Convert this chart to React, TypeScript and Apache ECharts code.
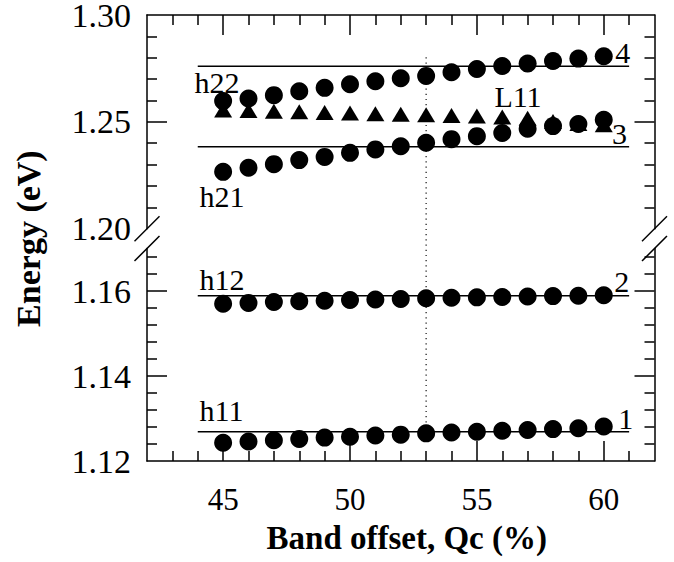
import React, { useEffect, useRef } from "react";
import * as echarts from "echarts";

// ---- data ----
const qcValues = [45, 46, 47, 48, 49, 50, 51, 52, 53, 54, 55, 56, 57, 58, 59, 60];
const h22Energy = [1.2597, 1.2609, 1.2625, 1.2643, 1.2659, 1.2676, 1.269, 1.2704, 1.2715, 1.2732, 1.2747, 1.2761, 1.2773, 1.2785, 1.2796, 1.2807];
const l11Energy = [1.2555, 1.2553, 1.255, 1.2547, 1.2544, 1.2541, 1.2538, 1.2535, 1.2533, 1.253, 1.2527, 1.2523, 1.2517, 1.2502, 1.2492, 1.2486];
const h21Energy = [1.2266, 1.2285, 1.2302, 1.2321, 1.2336, 1.2355, 1.2371, 1.2386, 1.2402, 1.2419, 1.2433, 1.2448, 1.2468, 1.248, 1.249, 1.251];
const h12Energy = [1.157, 1.1572, 1.1574, 1.1576, 1.1577, 1.1579, 1.158, 1.1581, 1.1583, 1.1584, 1.1585, 1.1586, 1.1587, 1.1588, 1.1589, 1.159];
const h11Energy = [1.1243, 1.1246, 1.1249, 1.1252, 1.1255, 1.1257, 1.126, 1.1262, 1.1265, 1.1267, 1.1269, 1.1271, 1.1273, 1.1275, 1.1277, 1.1281];

const upperLevelEnergy = [1.276, 1.2383];
const lowerLevelEnergy = [1.1589, 1.1269];
const levelQcRange = [44, 61];
const markerQc = 53;
const markerEnergyTop = 1.2802;
const markerEnergyBottom = 1.1269;

const xRange = [42, 62];
const xMajorTicks = [45, 50, 55, 60];
const xMinorTicks = [43, 44, 46, 47, 48, 49, 51, 52, 53, 54, 56, 57, 58, 59, 61];
const upperRange = [1.2, 1.3];
const upperLabels = [1.2, 1.25, 1.3];
const upperMajorTicks = [1.25];
const upperMinorTicks = [1.21, 1.22, 1.23, 1.24, 1.26, 1.27, 1.28, 1.29];
const lowerRange = [1.12, 1.17];
const lowerLabels = [1.12, 1.14, 1.16];
const lowerMajorTicks = [1.14, 1.16];
const lowerMinorTicks = [1.124, 1.128, 1.132, 1.136, 1.144, 1.148, 1.152, 1.156, 1.164, 1.168];

const annotationTexts = ["h22", "h21", "L11", "4", "3", "h12", "2", "h11", "1"];
const annotationGrid = [0, 0, 0, 0, 0, 1, 1, 1, 1];
const annotationQc = [43.87, 44.07, 55.69, 60.45, 60.33, 44.07, 60.41, 44.07, 60.57];
const annotationEnergy = [1.2685, 1.2153, 1.262, 1.2823, 1.2447, 1.1628, 1.1622, 1.1318, 1.1301];

const xTitle = "Band offset, Qc (%)";
const yTitle = "Energy (eV)";

const FONT = "Liberation Serif, Times New Roman, serif";
const BLACK = "#000";

function App() {
  const ref = useRef<HTMLDivElement>(null);

  useEffect(() => {
    if (!ref.current) return;
    const chart = echarts.init(ref.current, undefined, { renderer: "svg" });

    const lineStyle = { color: BLACK, width: 1.5 };
    const gridCommon = { left: 147, right: 19.5, containLabel: false, outerBoundsMode: "none" };

    const xAxisFor = (gridIndex: number, position: string, major: boolean, labels: boolean) => ({
      type: "value",
      gridIndex,
      position,
      min: xRange[0],
      max: xRange[1],
      axisLine: { show: major, lineStyle },
      axisTick: {
        show: true,
        inside: true,
        length: major ? 20 : 10,
        customValues: major ? xMajorTicks : xMinorTicks,
        lineStyle,
      },
      axisLabel: labels
        ? {
            show: true,
            customValues: xMajorTicks,
            fontSize: 31,
            fontFamily: FONT,
            color: BLACK,
            margin: 23,
          }
        : { show: false },
      splitLine: { show: false },
    });

    const yAxisFor = (
      gridIndex: number,
      position: string,
      range: number[],
      ticks: number[],
      major: boolean,
      labels: number[] | null
    ) => ({
      type: "value",
      gridIndex,
      position,
      min: range[0],
      max: range[1],
      axisLine: { show: major, lineStyle },
      axisTick: { show: true, inside: true, length: major ? 20 : 10, customValues: ticks, lineStyle },
      axisLabel: labels
        ? {
            show: true,
            customValues: labels,
            fontSize: 34,
            lineHeight: 26,
            fontFamily: FONT,
            color: BLACK,
            margin: 16,
            formatter: (v: number) => Number(v).toFixed(2),
          }
        : { show: false },
      splitLine: { show: false },
    });

    const levelSeries = (levels: number[], xi: number, yi: number) =>
      levels.map((v) => ({
        type: "line",
        xAxisIndex: xi,
        yAxisIndex: yi,
        data: [
          [levelQcRange[0], v],
          [levelQcRange[1], v],
        ],
        symbol: "none",
        lineStyle: { color: BLACK, width: 1.5 },
        z: 1,
        silent: true,
      }));

    const scatter = (vals: number[], xi: number, yi: number, symbol: string, size: any) => ({
      type: "scatter",
      xAxisIndex: xi,
      yAxisIndex: yi,
      symbol,
      symbolSize: size,
      itemStyle: { color: BLACK, opacity: 1 },
      data: qcValues.map((q, i) => [q, vals[i]]),
      z: 3,
    });

    chart.setOption({
      animation: false,
      backgroundColor: "#fff",
      grid: [
        { ...gridCommon, top: 15, height: 213.7 },
        { ...gridCommon, top: 248.5, height: 212.5 },
      ],
      xAxis: [
        xAxisFor(0, "top", true, false),
        xAxisFor(0, "top", false, false),
        xAxisFor(1, "bottom", true, true),
        xAxisFor(1, "bottom", false, false),
      ],
      yAxis: [
        yAxisFor(0, "left", upperRange, upperMajorTicks, true, upperLabels),
        yAxisFor(0, "left", upperRange, upperMinorTicks, false, null),
        yAxisFor(0, "right", upperRange, upperMajorTicks, true, null),
        yAxisFor(0, "right", upperRange, upperMinorTicks, false, null),
        yAxisFor(1, "left", lowerRange, lowerMajorTicks, true, lowerLabels),
        yAxisFor(1, "left", lowerRange, lowerMinorTicks, false, null),
        yAxisFor(1, "right", lowerRange, lowerMajorTicks, true, null),
        yAxisFor(1, "right", lowerRange, lowerMinorTicks, false, null),
      ],
      series: [
        ...levelSeries(upperLevelEnergy, 0, 0),
        ...levelSeries(lowerLevelEnergy, 2, 4),
        scatter(l11Energy, 0, 0, "triangle", [18, 15]),
        scatter(h22Energy, 0, 0, "circle", 18),
        scatter(h21Energy, 0, 0, "circle", 18),
        scatter(h12Energy, 2, 4, "circle", 18),
        scatter(h11Energy, 2, 4, "circle", 18),
      ],
    });

    // Pixel anchors derived from the axes
    const upLeft = chart.convertToPixel({ gridIndex: 0 }, [xRange[0], upperRange[0]]) as number[];
    const upRight = chart.convertToPixel({ gridIndex: 0 }, [xRange[1], upperRange[0]]) as number[];
    const loLeft = chart.convertToPixel({ gridIndex: 1 }, [xRange[0], lowerRange[1]]) as number[];
    const loRight = chart.convertToPixel({ gridIndex: 1 }, [xRange[1], lowerRange[1]]) as number[];
    const mTop = chart.convertToPixel({ gridIndex: 0 }, [markerQc, markerEnergyTop]) as number[];
    const mBot = chart.convertToPixel({ gridIndex: 1 }, [markerQc, markerEnergyBottom]) as number[];
    const gridBottomLeft = chart.convertToPixel({ gridIndex: 1 }, [xRange[0], lowerRange[0]]) as number[];
    const gridBottomRight = chart.convertToPixel({ gridIndex: 1 }, [xRange[1], lowerRange[0]]) as number[];

    const h = 12.5;
    const slash = (p: number[]) => ({
      type: "line",
      z: 10,
      shape: { x1: p[0] - h, y1: p[1] + h, x2: p[0] + h, y2: p[1] - h },
      style: { stroke: BLACK, lineWidth: 1.5 },
    });

    const annotations = annotationTexts.map((t, i) => {
      const p = chart.convertToPixel({ gridIndex: annotationGrid[i] }, [annotationQc[i], annotationEnergy[i]]) as number[];
      return {
        type: "text",
        z: 10,
        x: p[0],
        y: p[1],
        style: {
          text: t,
          fontSize: 30,
          fontFamily: FONT,
          fill: BLACK,
          align: "left",
          textAlign: "left",
          verticalAlign: "middle",
          textVerticalAlign: "middle",
        },
      };
    });

    const plotCenterX = (gridBottomLeft[0] + gridBottomRight[0]) / 2;

    chart.setOption({
      graphic: [
        {
          type: "line",
          z: 0,
          shape: { x1: mTop[0], y1: mTop[1], x2: mBot[0], y2: mBot[1] },
          style: { stroke: "#111", lineWidth: 1.2, lineDash: [1.2, 4] },
        },
        slash(upLeft),
        slash(upRight),
        slash(loLeft),
        slash(loRight),
        ...annotations,
        {
          type: "text",
          z: 10,
          x: plotCenterX + 6,
          y: gridBottomLeft[1] + 77,
          style: {
            text: xTitle,
            fontSize: 33,
            fontWeight: "bold",
            fontFamily: FONT,
            fill: BLACK,
            align: "center",
            textAlign: "center",
            verticalAlign: "middle",
            textVerticalAlign: "middle",
          },
        },
        {
          type: "text",
          z: 10,
          x: 28,
          y: (upLeft[1] + loLeft[1]) / 2,
          rotation: Math.PI / 2,
          style: {
            text: yTitle,
            fontSize: 34,
            fontWeight: "bold",
            fontFamily: FONT,
            fill: BLACK,
            align: "center",
            textAlign: "center",
            verticalAlign: "middle",
            textVerticalAlign: "middle",
          },
        },
      ],
    });

    return () => chart.dispose();
  }, []);

  return (
    <div
      ref={ref}
      style={{ position: "fixed", left: 0, top: 0, width: 674, height: 562, background: "#fff" }}
    />
  );
}

export default App;
